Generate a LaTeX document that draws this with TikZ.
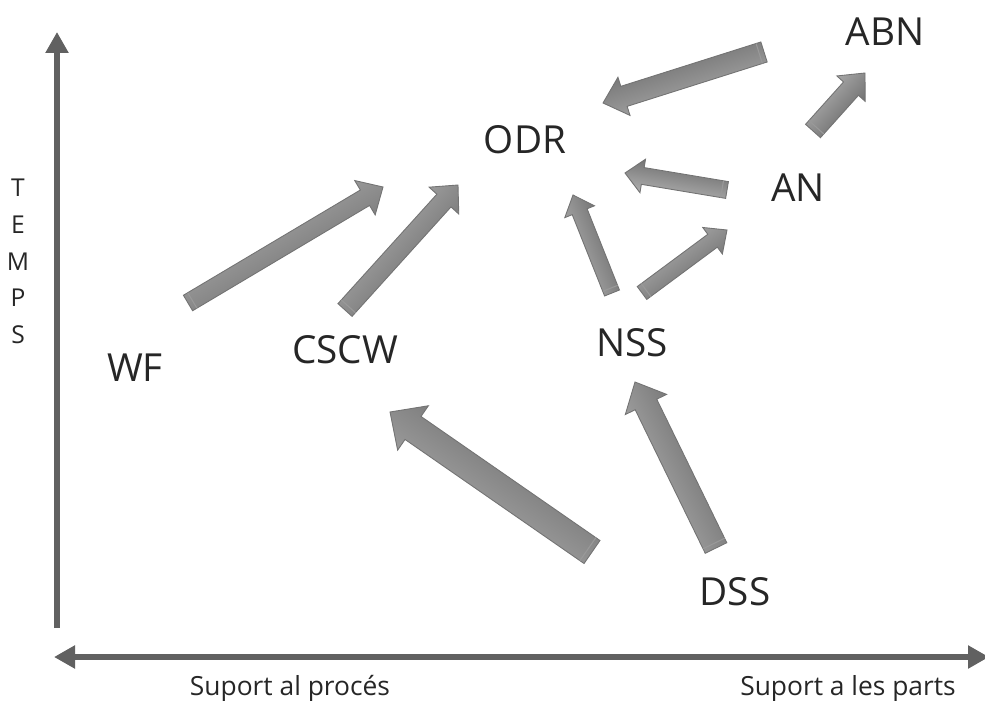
\documentclass[tikz,border=0pt]{standalone}
\usepackage{fontspec}
\setmainfont{Open Sans}
\usetikzlibrary{calc,arrows.meta}

\tikzset{
  lbl/.style={font=\fontsize{22}{26}\selectfont, text=black!85},
  axlbl/.style={font=\fontsize{15}{18}\selectfont, text=black!85},
  eix/.style={line width=0.12cm, draw=black!62},
  bloc/.style={draw=black!55, line width=0.5pt, top color=black!28, bottom color=black!62}
}

% 块状箭头: #1 尾, #2 头, #3 半宽, #4 箭头半宽, #5 箭头长
\newcommand{\bloc}[5]{%
  \path (#1); \pgfgetlastxy{\xa}{\ya}%
  \path (#2); \pgfgetlastxy{\xb}{\yb}%
  \pgfmathsetmacro{\angbloc}{atan2(\yb-\ya,\xb-\xa)}%
  \coordinate (hb) at ($(#2)!#5!(#1)$);
  \path[bloc, shading angle=\angbloc]
    ($(#1)!#3!90:(#2)$) -- ($(hb)!#3!90:(#2)$) -- ($(hb)!#4!90:(#2)$) -- (#2)
    -- ($(hb)!#4!-90:(#2)$) -- ($(hb)!#3!-90:(#2)$) -- ($(#1)!#3!-90:(#2)$) -- cycle;
  \draw[black!40, line width=0.6pt] ($($(#1)!0.1cm!(#2)$)!#3!90:(#2)$) -- ($($(#1)!0.1cm!(#2)$)!#3!-90:(#2)$);
}

\begin{document}
\begin{tikzpicture}
  \useasboundingbox (0,0) rectangle (19.7,14);

  % 坐标轴
  \coordinate (y0) at (1.14,1.44);
  \coordinate (y1) at (1.14,13.36);
  \coordinate (x0) at (1.08,0.86);
  \coordinate (x1) at (19.78,0.86);
  \draw[eix, -{Triangle[length=0.42cm, width=0.44cm]}] (y0) -- (y1);
  \draw[eix, {Triangle[length=0.42cm, width=0.44cm]}-{Triangle[length=0.42cm, width=0.44cm]}] (x0) -- (x1);

  % 轴标签
  \node[axlbl] (proc) at (5.8,0.22) {Suport al procés};
  \node[axlbl] (parts) at (16.96,0.22) {Suport a les parts};
  \node[font=\fontsize{14}{20.9}\selectfont, text=black!85, align=center] (temps) at (0.36,8.77) {T\\E\\M\\P\\S};

  % 标签
  \node[lbl] (abn) at (17.7,13.36) {ABN};
  \node[lbl] (odr) at (10.5,11.2) {ODR};
  \node[lbl] (an) at (15.96,10.24) {AN};
  \node[lbl] (nss) at (12.64,7.14) {NSS};
  \node[lbl] (cscw) at (6.9,7.0) {CSCW};
  \node[lbl] (wf) at (2.7,6.64) {WF};
  \node[lbl] (dss) at (14.7,2.16) {DSS};

  % 箭头端点
  \coordinate (wfA) at (3.76,7.94);   \coordinate (wfB) at (7.66,10.26);
  \coordinate (csA) at (6.9,7.8);     \coordinate (csB) at (9.16,10.3);
  \coordinate (noA) at (12.24,8.14);  \coordinate (noB) at (11.46,10.1);
  \coordinate (naA) at (12.84,8.14);  \coordinate (naB) at (14.54,9.4);
  \coordinate (aoA) at (14.54,10.2);  \coordinate (aoB) at (12.5,10.54);
  \coordinate (toA) at (15.28,12.96); \coordinate (toB) at (12.06,11.94);
  \coordinate (abA) at (16.26,11.38); \coordinate (abB) at (17.3,12.54);
  \coordinate (dcA) at (11.84,2.96);  \coordinate (dcB) at (7.8,5.76);
  \coordinate (dnA) at (14.32,3.04);  \coordinate (dnB) at (12.7,6.36);

  % 箭头
  \bloc{wfA}{wfB}{0.18cm}{0.4cm}{0.42cm}
  \bloc{csA}{csB}{0.19cm}{0.4cm}{0.42cm}
  \bloc{noA}{noB}{0.16cm}{0.32cm}{0.36cm}
  \bloc{naA}{naB}{0.16cm}{0.33cm}{0.36cm}
  \bloc{aoA}{aoB}{0.17cm}{0.34cm}{0.36cm}
  \bloc{toA}{toB}{0.21cm}{0.4cm}{0.44cm}
  \bloc{abA}{abB}{0.2cm}{0.38cm}{0.42cm}
  \bloc{dcA}{dcB}{0.28cm}{0.54cm}{0.56cm}
  \bloc{dnA}{dnB}{0.24cm}{0.46cm}{0.5cm}
\end{tikzpicture}
\end{document}
